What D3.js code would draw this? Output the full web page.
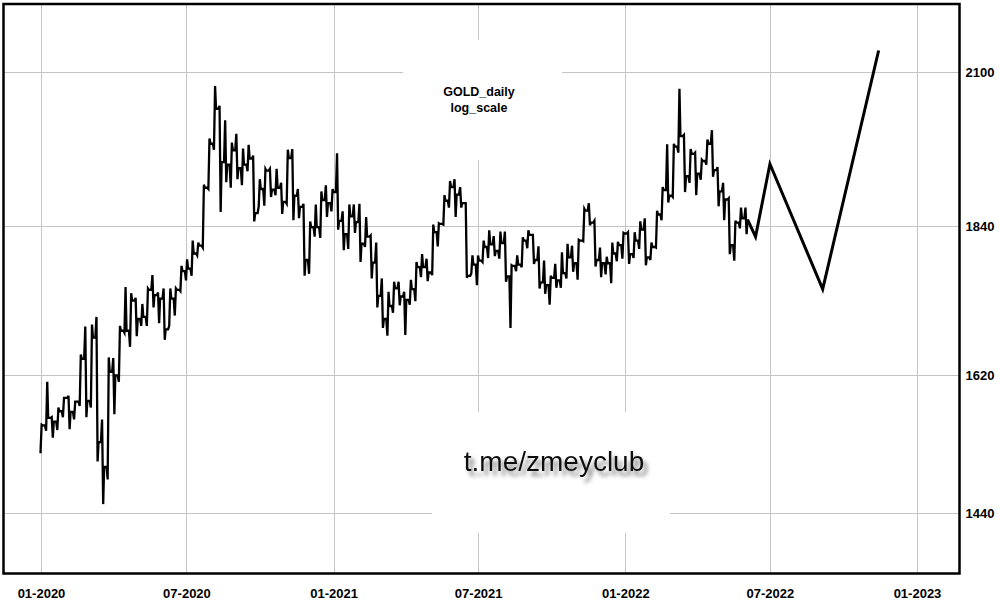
<!DOCTYPE html>
<html>
<head>
<meta charset="utf-8">
<script src="https://cdn.jsdelivr.net/npm/d3@7"></script>
<style>
  body { margin: 0; background: #fff; }
  text { font-family: "Liberation Sans", Arial, sans-serif; }
</style>
</head>
<body>
<div id="chart"></div>
<script>
// Data: weekly high / low / close of gold (weeks start Monday 2019-12-30)
var firstWeek = "2019-12-30";
var firstOpen = 1517;
var weekHigh = [
  1553, 1611, 1563, 1576, 1589, 1592, 1584, 1649, 1689, 1692, 1703, 1560, 1645, 1644, 1690, 1747, 1738, 1731, 1722, 1745,
  1765, 1739, 1745, 1745, 1745, 1779, 1789, 1818, 1815, 1907, 1984, 2075, 2040, 2015, 1977, 1992, 1967, 1973, 1955, 1916,
  1933, 1933, 1933, 1910, 1965, 1966, 1900, 1876, 1848, 1875, 1896, 1906, 1900,
  1959, 1864, 1875, 1875, 1876, 1855, 1826, 1815, 1760, 1740, 1755, 1755, 1740, 1758, 1785, 1797, 1790, 1843, 1845, 1890,
  1913, 1916, 1903, 1877, 1795, 1795, 1818, 1834, 1825, 1832, 1832, 1780, 1795, 1823, 1834, 1827, 1809, 1787, 1764, 1782,
  1800, 1813, 1810, 1819, 1868, 1877, 1849, 1807, 1793, 1815, 1816, 1830,
  1831, 1831, 1848, 1853, 1815, 1865, 1903, 1974, 1975, 2070, 1990, 1966, 1960, 1948, 1982, 1998, 1936, 1910, 1885, 1849,
  1870, 1870
];
var weekLow = [
  1517, 1545, 1536, 1546, 1563, 1547, 1560, 1578, 1563, 1576, 1505, 1451, 1482, 1567, 1611, 1680, 1660, 1675, 1690, 1690,
  1717, 1694, 1670, 1690, 1705, 1741, 1757, 1764, 1795, 1807, 1900, 1965, 1863, 1911, 1902, 1916, 1906, 1929, 1848, 1872,
  1873, 1887, 1890, 1860, 1876, 1850, 1853, 1764, 1767, 1824, 1822, 1855, 1864,
  1835, 1803, 1805, 1830, 1785, 1808, 1760, 1717, 1687, 1676, 1709, 1720, 1677, 1721, 1726, 1762, 1756, 1765, 1809, 1843,
  1870, 1855, 1870, 1761, 1768, 1750, 1785, 1791, 1794, 1790, 1755, 1687, 1771, 1777, 1806, 1782, 1745, 1737, 1721, 1746,
  1746, 1760, 1770, 1758, 1817, 1842, 1778, 1762, 1766, 1753, 1786, 1790,
  1782, 1791, 1805, 1780, 1788, 1807, 1850, 1878, 1887, 1960, 1895, 1910, 1890, 1915, 1940, 1920, 1872, 1850, 1797, 1787,
  1837, 1828
];
var weekClose = [
  1552, 1562, 1557, 1571, 1589, 1570, 1584, 1643, 1585, 1673, 1530, 1498, 1625, 1620, 1683, 1683, 1727, 1700, 1703, 1743,
  1735, 1730, 1685, 1730, 1743, 1771, 1775, 1798, 1810, 1902, 1975, 2035, 1944, 1940, 1964, 1934, 1940, 1950, 1861, 1900,
  1930, 1899, 1902, 1879, 1951, 1889, 1871, 1788, 1839, 1839, 1882, 1877, 1895,
  1849, 1828, 1856, 1847, 1813, 1824, 1784, 1734, 1700, 1719, 1745, 1733, 1728, 1744, 1777, 1777, 1769, 1831, 1844, 1881,
  1903, 1891, 1877, 1764, 1781, 1787, 1808, 1812, 1802, 1814, 1763, 1779, 1781, 1818, 1827, 1788, 1754, 1750, 1761, 1757,
  1768, 1792, 1783, 1818, 1865, 1846, 1788, 1783, 1783, 1798, 1811, 1829,
  1797, 1818, 1835, 1792, 1808, 1859, 1898, 1889, 1970, 1988, 1921, 1958, 1925, 1946, 1975, 1931, 1896, 1883, 1811, 1846,
  1853, 1851
];

// Forecast path drawn after the data
var forecastDates = ["2022-06-03", "2022-06-13", "2022-07-01", "2022-09-05", "2022-11-14"];
var forecastValues = [1851, 1824, 1941, 1744, 2139];

// Axis ticks
var xTicks = ["2020-01-01", "2020-07-01", "2021-01-01", "2021-07-01", "2022-01-01", "2022-07-01", "2023-01-01"];
var yTicks = [1440, 1620, 1840, 2100];

var width = 1000;
var height = 600;
var frame = { left: 3.5, right: 959.5, top: 4, bottom: 573.5 };

var svg = d3.select('#chart')
            .append('svg')
            .attr('width', width)
            .attr('height', height)
            .style('display', 'block');

var parse = d3.utcParse("%Y-%m-%d");
var fmt = d3.utcFormat("%m-%Y");

// Scales
var xScale = d3.scaleUtc()
               .domain([parse("2020-01-01"), parse("2023-01-01")])
               .range([41, 917]);

var yScale = d3.scaleLog()
               .domain([1440, 2100])
               .range([513, 72]);

var defs = svg.append('defs');
defs.append('clipPath').attr('id', 'clip')
    .append('rect')
    .attr('x', frame.left).attr('y', frame.top)
    .attr('width', frame.right - frame.left).attr('height', frame.bottom - frame.top);

var shadow = defs.append('filter').attr('id', 'shadow')
    .attr('x', '-10%').attr('y', '-30%').attr('width', '130%').attr('height', '180%');
shadow.append('feDropShadow')
    .attr('dx', 4).attr('dy', 5).attr('stdDeviation', 2)
    .attr('flood-color', '#555').attr('flood-opacity', 0.75);

// Grid
var grid = svg.append('g').attr('clip-path', 'url(#clip)');
grid.selectAll('.vgrid')
    .data(xTicks.map(parse))
    .enter()
    .append('line')
    .attr('x1', d => Math.round(xScale(d)) + 0.5)
    .attr('x2', d => Math.round(xScale(d)) + 0.5)
    .attr('y1', frame.top).attr('y2', frame.bottom)
    .attr('stroke', '#c4c4c4');
grid.selectAll('.hgrid')
    .data(yTicks)
    .enter()
    .append('line')
    .attr('x1', frame.left).attr('x2', frame.right)
    .attr('y1', d => Math.round(yScale(d)) + 0.5)
    .attr('y2', d => Math.round(yScale(d)) + 0.5)
    .attr('stroke', '#c4c4c4');

// white boxes behind title and watermark
svg.append('rect').attr('x', 403).attr('y', 40).attr('width', 159).attr('height', 120).attr('fill', '#fff');
svg.append('rect').attr('x', 432).attr('y', 412).attr('width', 238).attr('height', 121).attr('fill', '#fff');

// Price path: each week goes open -> extreme -> extreme -> close
var start = parse(firstWeek);
var pts = [];
var prev = firstOpen;
weekClose.forEach(function (c, i) {
    var monday = d3.utcDay.offset(start, i * 7);
    var day = function (k) { return new Date(monday.getTime() + k * 86400000); };
    var up = c >= prev;
    pts.push([day(0), prev]);
    pts.push([day(1.4), up ? weekLow[i] : weekHigh[i]]);
    pts.push([day(2.8), up ? weekHigh[i] : weekLow[i]]);
    pts.push([day(4), c]);
    prev = c;
});

var line = d3.line()
             .x(d => xScale(d[0]))
             .y(d => yScale(d[1]));

svg.append('path')
   .datum(pts)
   .attr('d', line)
   .attr('fill', 'none')
   .attr('stroke', '#000')
   .attr('stroke-width', 2.3)
   .attr('stroke-linejoin', 'miter');

svg.append('path')
   .datum(forecastDates.map((d, i) => [parse(d), forecastValues[i]]))
   .attr('d', line)
   .attr('fill', 'none')
   .attr('stroke', '#000')
   .attr('stroke-width', 3);

// Frame
svg.append('rect')
   .attr('x', frame.left).attr('y', frame.top)
   .attr('width', frame.right - frame.left).attr('height', frame.bottom - frame.top)
   .attr('fill', 'none')
   .attr('stroke', '#000')
   .attr('stroke-width', 2.5);

// Axes
var xAxis = d3.axisBottom(xScale)
              .tickValues(xTicks.map(parse))
              .tickFormat(fmt)
              .tickSize(0)
              .tickPadding(15);
svg.append('g')
   .attr('id', 'x-axis')
   .attr('transform', 'translate(0,' + frame.bottom + ')')
   .call(xAxis)
   .call(g => g.select('.domain').remove())
   .selectAll('text')
   .style('font-size', '13px')
   .style('font-weight', 'bold')
   .attr('fill', '#000');

var yAxis = d3.axisRight(yScale)
              .tickValues(yTicks)
              .tickFormat(d3.format('d'))
              .tickSize(0)
              .tickPadding(6);
svg.append('g')
   .attr('id', 'y-axis')
   .attr('transform', 'translate(' + frame.right + ',0)')
   .call(yAxis)
   .call(g => g.select('.domain').remove())
   .selectAll('text')
   .style('font-size', '13px')
   .style('font-weight', 'bold')
   .attr('fill', '#000');

// Title
svg.append('text')
   .attr('x', 479).attr('y', 96)
   .attr('text-anchor', 'middle')
   .style('font-size', '12.5px')
   .style('font-weight', 'bold')
   .text('GOLD_daily');
svg.append('text')
   .attr('x', 479).attr('y', 112)
   .attr('text-anchor', 'middle')
   .style('font-size', '12.5px')
   .style('font-weight', 'bold')
   .text('log_scale');

// Watermark
svg.append('text')
   .attr('x', 554).attr('y', 471)
   .attr('text-anchor', 'middle')
   .attr('filter', 'url(#shadow)')
   .style('font-size', '28px')
   .attr('fill', '#111')
   .text('t.me/zmeyclub');
</script>
</body>
</html>
